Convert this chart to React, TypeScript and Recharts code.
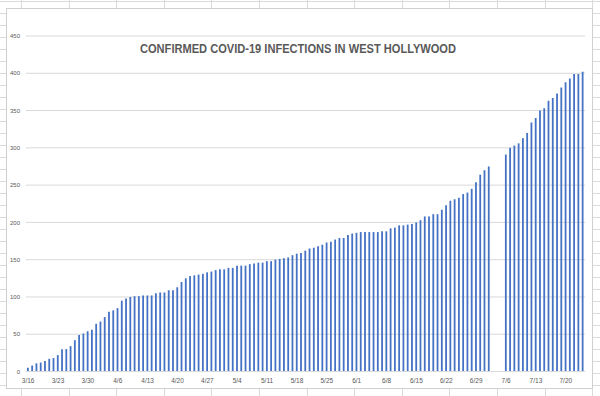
import React from 'react';
import { BarChart, Bar, XAxis, YAxis, CartesianGrid } from 'recharts';

// Confirmed cases, by month (first listed day given by start day)
const marStart = 16;
const marValues = [5, 8, 11, 12, 14, 17, 18, 22, 30, 30, 34, 42, 49, 51, 54, 56];
const aprValues = [64, 67, 73, 80, 82, 85, 95, 98, 100, 101, 101, 102, 102, 102, 105, 106, 106, 109, 109, 113, 120, 125, 128, 129, 130, 131, 133, 134, 136, 137];
const mayValues = [137, 139, 139, 142, 142, 142, 144, 145, 146, 146, 148, 148, 150, 151, 152, 153, 156, 158, 159, 162, 165, 166, 168, 170, 173, 174, 177, 179, 179, 183, 185];
const junValues = [186, 187, 187, 187, 187, 187, 188, 188, 192, 193, 196, 196, 197, 198, 200, 203, 208, 208, 211, 211, 217, 223, 229, 231, 233, 238, 240, 245, 254, 264];
const julValues: (number | null)[] = [270, 275, null, null, null, 291, 300, 303, 306, 313, 320, 334, 340, 350, 353, 363, 367, 373, 381, 388, 393, 399, 399, 402];

const months = [
  { m: 3, start: marStart, values: marValues as (number | null)[] },
  { m: 4, start: 1, values: aprValues as (number | null)[] },
  { m: 5, start: 1, values: mayValues as (number | null)[] },
  { m: 6, start: 1, values: junValues as (number | null)[] },
  { m: 7, start: 1, values: julValues },
];

const data = months.flatMap(({ m, start, values }) =>
  values.map((v, i) => ({ date: `${m}/${start + i}`, cases: v }))
);

const yTicks = [0, 50, 100, 150, 200, 250, 300, 350, 400, 450];
const title = 'CONFIRMED COVID-19 INFECTIONS IN WEST HOLLYWOOD';

const W = 600;
const H = 396;

function SheetBackground() {
  const rows: number[] = [];
  for (let y = 1; y < H; y += 12) rows.push(y);
  const cols: number[] = [];
  for (let x = 21; x < W; x += 47.6) cols.push(x);
  return (
    <svg width={W} height={H} style={{ position: 'absolute', left: 0, top: 0 }}>
      <rect x={0} y={0} width={W} height={H} fill="#ffffff" />
      {rows.map((y) => (
        <line key={'r' + y} x1={0} x2={W} y1={y + 0.5} y2={y + 0.5} stroke="#dadada" strokeWidth={1} />
      ))}
      {cols.map((x) => (
        <line key={'c' + x} x1={Math.round(x) + 0.5} x2={Math.round(x) + 0.5} y1={0} y2={H} stroke="#dadada" strokeWidth={1} />
      ))}
      <rect x={6.5} y={8.5} width={586} height={380} fill="#ffffff" stroke="#d0d0d0" strokeWidth={1} />
    </svg>
  );
}

export default function App() {
  return (
    <div style={{ position: 'absolute', left: 0, top: 0, width: W, height: H, overflow: 'hidden', background: '#fff' }}>
      <SheetBackground />
      <svg width={W} height={H} style={{ position: 'absolute', left: 0, top: 0 }}>
        <text
          x={298}
          y={53}
          textAnchor="middle"
          fontFamily="'Liberation Sans', Arial, sans-serif"
          fontWeight="bold"
          fontSize={12.5}
          fill="#595959"
          textLength={316}
          lengthAdjust="spacingAndGlyphs"
        >
          {title}
        </text>
      </svg>
      <div style={{ position: 'absolute', left: 0, top: 0 }}>
        <BarChart
          width={W}
          height={H}
          data={data}
          margin={{ top: 36, right: 15, bottom: 4.5, left: 0 }}
          style={{ fontFamily: "'Liberation Sans', Arial, sans-serif" }}
        >
          <CartesianGrid vertical={false} stroke="#d9d9d9" strokeWidth={1} />
          <XAxis
            dataKey="date"
            interval={6}
            height={20}
            tickLine={false}
            tickSize={3}
            tickMargin={4}
            axisLine={{ stroke: '#d9d9d9' }}
            tick={{ fontSize: 6.5, fill: '#595959' }}
          />
          <YAxis
            width={26}
            domain={[0, 450]}
            ticks={yTicks}
            axisLine={false}
            tickLine={false}
            tickSize={4}
            tickMargin={2}
            tick={{ fontSize: 6, fill: '#595959' }}
          />
          <Bar dataKey="cases" fill="#4472C4" barSize={1.8} isAnimationActive={false} />
        </BarChart>
      </div>
    </div>
  );
}
